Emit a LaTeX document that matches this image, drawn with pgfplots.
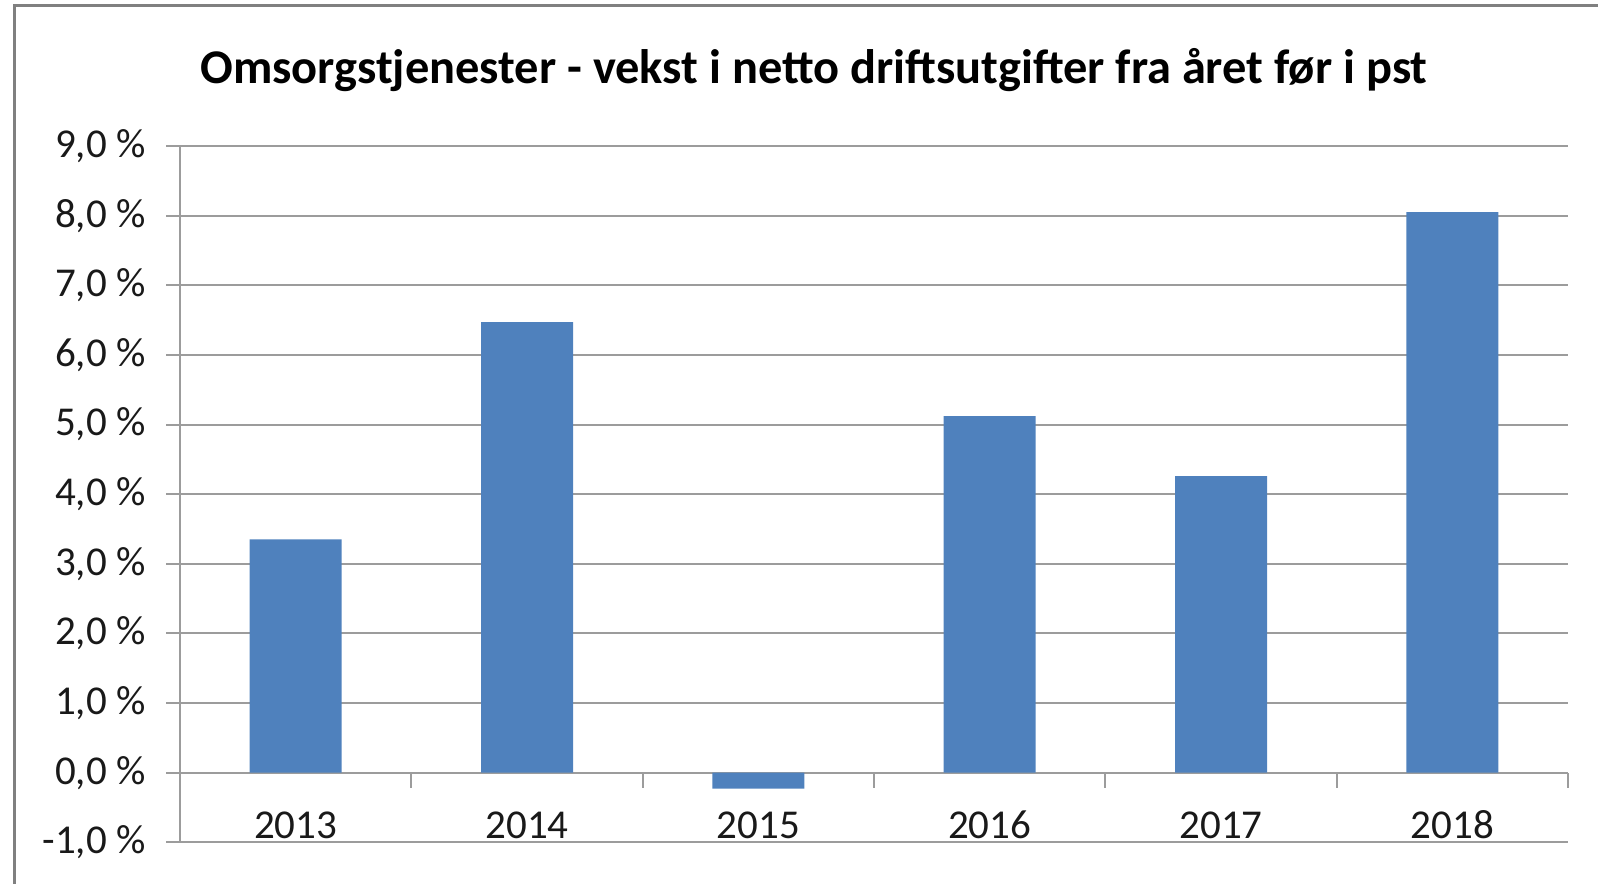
\documentclass[border=0pt]{standalone}
\usepackage{pgfplots}
\pgfplotsset{compat=1.18}
\usepackage{fontspec}
\setmainfont{Carlito}
\definecolor{barblue}{HTML}{4F81BD}
\definecolor{gridgray}{HTML}{9C9C9C}
\definecolor{framegray}{HTML}{808080}
\begin{document}
\begin{tikzpicture}
\useasboundingbox (0,0) rectangle (799pt,441.5pt);
\draw[framegray, line width=1.5pt] (7.25pt,-1pt) -- (7.25pt,438.65pt) -- (800pt,438.65pt);
\node[anchor=base, font=\fontsize{24.2}{29}\selectfont\bfseries] at (407pt,399.5pt)
  {Omsorgstjenester - vekst i netto driftsutgifter fra året før i pst};
\begin{axis}[
  at={(90pt,20.35pt)}, anchor=south west,
  scale only axis, width=694pt, height=348.15pt,
  xmin=-0.5, xmax=5.5, ymin=-1, ymax=9,
  axis x line=middle, axis y line=left,
  axis line style={-, draw=gridgray, line width=1pt},
  hide obscured x ticks=false, hide obscured y ticks=false,
  ytick={-1,0,...,9},
  ymajorgrids, grid style={draw=gridgray, line width=1pt},
  yticklabel={\pgfmathprintnumber[fixed,fixed zerofill,precision=1,use comma]{\tick}\ \%},
  /pgf/number format/assume math mode=true,
  xtick={0,1,2,3,4,5},
  xticklabels={2013,2014,2015,2016,2017,2018},
  major x tick style={draw=none},
  minor xtick={-0.5,0.5,1.5,2.5,3.5,4.5,5.5},
  minor x tick style={draw=gridgray, line width=1pt},
  tick align=outside,
  major tick length=6.75pt, minor tick length=7.5pt,
  ytick style={draw=gridgray, line width=1pt},
  tick label style={font=\fontsize{20.5}{24}\selectfont, text=black!90},
  yticklabel style={xshift=-7pt},
  xticklabel style={text height=13pt, text depth=0pt, yshift=-9.5pt},
  clip=false,
]
\addplot[ybar, bar width=46pt, fill=barblue, draw=none] coordinates {
  (0,3.35) (1,6.47) (2,-0.23) (3,5.12) (4,4.26) (5,8.05)
};
\end{axis}
\end{tikzpicture}
\end{document}
